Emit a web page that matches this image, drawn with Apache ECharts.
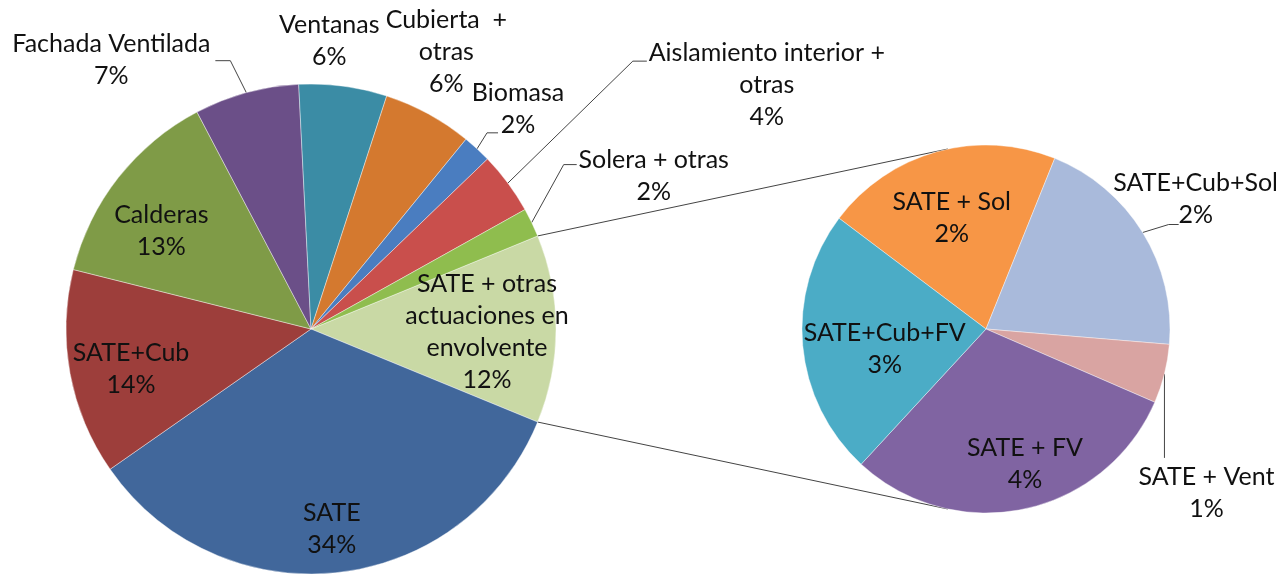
<!DOCTYPE html>
<html>
<head>
<meta charset="utf-8">
<script src="https://cdn.jsdelivr.net/npm/echarts@6/dist/echarts.min.js"></script>
<style>
  html, body { margin: 0; padding: 0; background: #fff; }
  #main { width: 1276px; height: 574px; }
</style>
</head>
<body>
<div id="main"></div>
<script>
// main pie, starting with the slice that is broken out into the second pie
const mainNames = [
  "SATE + otras\nactuaciones en\nenvolvente",
  "SATE",
  "SATE+Cub",
  "Calderas",
  "Fachada Ventilada",
  "Ventanas",
  "Cubierta  +\notras",
  "Biomasa",
  "Aislamiento interior +\notras",
  "Solera + otras",
];
const mainValues = [12.4, 34.1, 13.6, 13.4, 6.9, 5.8, 5.9, 1.9, 4.1, 1.9];
const mainColors = ["#c9d9a5", "#41679b", "#9d3e3b", "#7f9b47", "#6b4f88", "#3b8ca5", "#d4792f", "#4a7dc0", "#c94f4c", "#8fbd4e"];

// second pie: breakdown of "SATE + otras actuaciones en envolvente"
const subNames = ["SATE + Sol", "SATE+Cub+Sol", "SATE + Vent", "SATE + FV", "SATE+Cub+FV"];
const subValues = [2.49, 2.42, 0.62, 3.63, 2.8];
const subColors = ["#f79646", "#a9badb", "#d9a4a2", "#8064a2", "#4bacc6"];

// layout
const FONT = "Lato, 'Open Sans', sans-serif";
const FONT_SIZE = 25;
const main = { cx: 311, cy: 329, r: 245 };
const sub = { cx: 986, cy: 329, r: 184, start: 143 };
main.start = mainValues[0] / mainValues.reduce((a, b) => a + b, 0) * 180;

// label spots, relative to the slice edge point at mid angle
const mainSpots = [
  { inside: true, off: [-69, 3] },
  { inside: true, off: [-6, -44] },
  { inside: true, off: [61, -4] },
  { inside: true, off: [43, 53] },
  { off: [-135, -33], elbow: [-16, -32], hx: -15 },
  { off: [-14, -45] },
  { off: [18, -62] },
  { off: [41, -40], elbow: [10, -16], hx: 11 },
  { off: [259, -98], elbow: [125, -122], hx: 14 },
  { off: [122, -47], elbow: [32, -58], hx: 13 },
];
const subSpots = [
  { inside: true, off: [15, 66] },
  { off: [53, -34], elbow: [26, -8], hx: 10 },
  { off: [42, 119], elbow: [0, 84], hx: 0 },
  { inside: true, off: [1, -45] },
  { inside: true, off: [82, 3] },
];

function geometry(values, p) {
  const total = values.reduce((a, b) => a + b, 0);
  let a = -p.start;
  return values.map((v) => {
    const span = (v / total) * 360;
    const s = (a * Math.PI) / 180;
    const m = ((a + span / 2) * Math.PI) / 180;
    const e = ((a + span) * Math.PI) / 180;
    a += span;
    return {
      edge: [p.cx + p.r * Math.cos(m), p.cy + p.r * Math.sin(m)],
      startPt: [p.cx + p.r * Math.cos(s), p.cy + p.r * Math.sin(s)],
      endPt: [p.cx + p.r * Math.cos(e), p.cy + p.r * Math.sin(e)],
    };
  });
}
const mainGeo = geometry(mainValues, main);
const subGeo = geometry(subValues, sub);

// connector from a point on the main pie to the tangent point of the second pie
function tangent(pt, c, upper) {
  const dx = pt[0] - c.cx, dy = pt[1] - c.cy;
  const d = Math.sqrt(dx * dx + dy * dy);
  const phi = Math.atan2(dy, dx);
  const alpha = Math.acos(c.r / d);
  const t = upper ? phi + alpha : phi - alpha;
  return [c.cx + c.r * Math.cos(t), c.cy + c.r * Math.sin(t)];
}
const topPt = mainGeo[0].startPt;
const botPt = mainGeo[0].endPt;
const topEnd = tangent(topPt, sub, true);
const botEnd = tangent(botPt, sub, false);

function makeData(names, values, colors, spots) {
  return names.map((n, i) => ({
    name: n,
    value: values[i],
    itemStyle: { color: colors[i] },
    label: { position: spots[i].inside ? "inside" : "outside" },
    labelLine: { show: !!spots[i].elbow },
  }));
}

function layoutFor(geo, spots) {
  return function (params) {
    const g = geo[params.dataIndex];
    const s = spots[params.dataIndex];
    const res = {
      x: g.edge[0] + s.off[0],
      y: g.edge[1] + s.off[1],
      align: "center",
      verticalAlign: "middle",
    };
    if (s.elbow) {
      const e1 = [g.edge[0] + s.elbow[0], g.edge[1] + s.elbow[1]];
      res.labelLinePoints = [g.edge.slice(), e1, [e1[0] + s.hx, e1[1]]];
    }
    return res;
  };
}

const labelStyle = {
  show: true,
  color: "#111",
  fontFamily: FONT,
  fontSize: FONT_SIZE,
  lineHeight: 32,
  textBorderWidth: 0,
  formatter: (p) =>
    (p.name + "\n" + Math.round(p.value) + "%")
      .split("\n")
      .map((t) => "{c|" + t + "}")
      .join("\n"),
  rich: {
    c: { align: "center", color: "#111", fontFamily: FONT, fontSize: FONT_SIZE, lineHeight: 32 },
  },
};

const option = {
  animation: false,
  backgroundColor: "#fff",
  graphic: [
    {
      type: "line",
      silent: true,
      shape: { x1: topPt[0], y1: topPt[1], x2: topEnd[0], y2: topEnd[1] },
      style: { stroke: "#444", lineWidth: 1 },
    },
    {
      type: "line",
      silent: true,
      shape: { x1: botPt[0], y1: botPt[1], x2: botEnd[0], y2: botEnd[1] },
      style: { stroke: "#444", lineWidth: 1 },
    },
  ],
  series: [
    {
      name: "main",
      type: "pie",
      center: [main.cx, main.cy],
      radius: main.r,
      startAngle: main.start,
      clockwise: true,
      avoidLabelOverlap: false,
      silent: true,
      itemStyle: { borderColor: "rgba(255,255,255,0.5)", borderWidth: 0.8 },
      label: labelStyle,
      labelLine: { lineStyle: { color: "#444", width: 1 } },
      labelLayout: layoutFor(mainGeo, mainSpots),
      data: makeData(mainNames, mainValues, mainColors, mainSpots),
    },
    {
      name: "sub",
      type: "pie",
      center: [sub.cx, sub.cy],
      radius: sub.r,
      startAngle: sub.start,
      clockwise: true,
      avoidLabelOverlap: false,
      silent: true,
      itemStyle: { borderColor: "rgba(255,255,255,0.5)", borderWidth: 0.8 },
      label: labelStyle,
      labelLine: { lineStyle: { color: "#444", width: 1 } },
      labelLayout: layoutFor(subGeo, subSpots),
      data: makeData(subNames, subValues, subColors, subSpots),
    },
  ],
};

const myChart = echarts.init(document.getElementById("main"));
myChart.setOption(option);
</script>
</body>
</html>
